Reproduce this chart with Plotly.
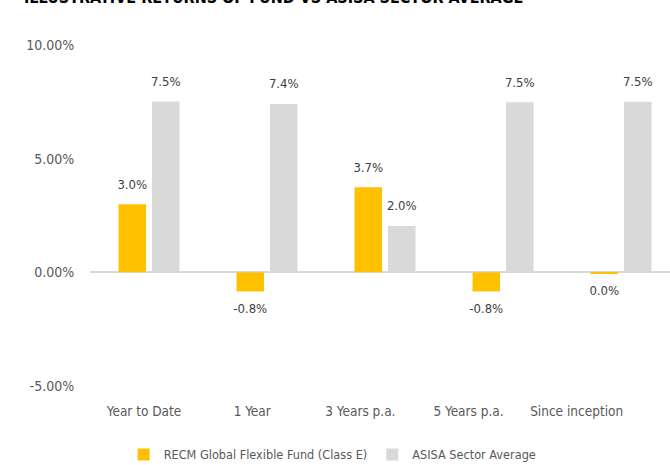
import plotly.graph_objects as go

categories = ["Year to Date", "1 Year", "3 Years p.a.", "5 Years p.a.", "Since inception"]
fund_name = "RECM Global Flexible Fund (Class E)"
sector_name = "ASISA Sector Average"
fund_values = [3.0, -0.84, 3.74, -0.84, -0.04]
sector_values = [7.52, 7.41, 2.04, 7.48, 7.5]
y_ticks = [-5, 0, 5, 10]
title_text = "ILLUSTRATIVE RETURNS OF FUND VS ASISA SECTOR AVERAGE"


def fmt(v):
    s = f"{v:.1f}"
    if s == "-0.0":
        s = "0.0"
    return s + "%"


FONT = "DejaVu Sans Condensed, Liberation Sans Narrow, sans-serif"
xs = list(range(len(categories)))
BARGAP = 0.432
half = (1 - BARGAP) / 4

fig = go.Figure()
colors = {"fund": "#FFC000", "sector": "#D9D9D9"}
for name, vals, col, sign in [(fund_name, fund_values, colors["fund"], -1),
                              (sector_name, sector_values, colors["sector"], 1)]:
    fig.add_trace(go.Bar(
        x=xs, y=vals, name=name,
        marker=dict(color=col, line=dict(width=0)),
        hoverinfo="x+y",
    ))
    fig.add_trace(go.Scatter(
        x=[x + sign * half for x in xs], y=vals, mode="markers+text",
        marker=dict(size=18, opacity=0),
        text=[fmt(v) for v in vals],
        textposition=["top center" if v >= 0 else "bottom center" for v in vals],
        textfont=dict(size=13, color="#404040", family=FONT),
        showlegend=False, hoverinfo="skip", cliponaxis=False,
    ))

label_pos = [i * 0.9165 - 0.042 for i in xs]

fig.update_layout(
    width=670, height=465,
    margin=dict(l=90, r=0, t=45, b=79),
    paper_bgcolor="white", plot_bgcolor="white",
    barmode="group", bargap=BARGAP, bargroupgap=0.18,
    font=dict(family=FONT, size=14, color="#595959"),
    showlegend=True,
    legend=dict(orientation="h", x=0.058, xanchor="left", yref="container",
                y=0.022, yanchor="middle",
                font=dict(size=12.6, color="#595959"), itemwidth=30,
                traceorder="normal"),
    xaxis=dict(range=[-0.5, 4.415], tickmode="array", tickvals=label_pos,
               ticktext=categories, showgrid=False, zeroline=False, automargin=False,
               showline=False, ticks="outside", ticklen=13, tickcolor="rgba(0,0,0,0)",
               tickfont=dict(size=13.5, color="#595959")),
    yaxis=dict(range=[-5, 10], tickvals=y_ticks, automargin=False,
               ticktext=[f"{v:.2f}%" for v in y_ticks],
               showgrid=False, zeroline=True, zerolinecolor="#D9D9D9", zerolinewidth=1.5,
               showline=False, ticks="outside", ticklen=12, tickcolor="rgba(0,0,0,0)",
               tickfont=dict(size=14, color="#595959")),
    annotations=[dict(text="<b>" + title_text + "</b>", xref="paper", yref="paper",
                      x=-0.117, xanchor="left", y=1.107, yanchor="bottom", showarrow=False,
                      font=dict(size=16, color="#000000", family=FONT))],
)

fig.write_html("out.html", config={"displayModeBar": False},
               post_script="document.body.style.margin='0px';")
